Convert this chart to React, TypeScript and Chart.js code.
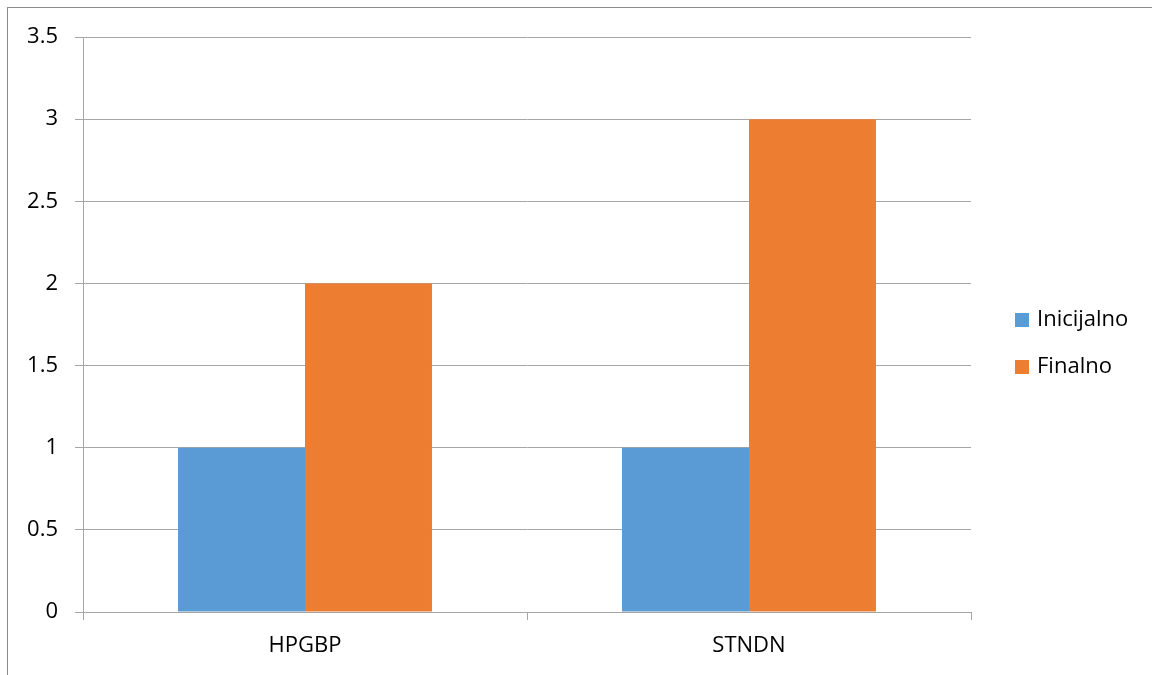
import React, { useEffect, useRef } from "react";
import { Chart, registerables } from "chart.js";

Chart.register(...registerables);

const categories = ["HPGBP", "STNDN"];
const seriesNames = ["Inicijalno", "Finalno"];
const inicijalno = [1, 1];
const finalno = [2, 3];
const seriesColors = ["#5B9BD5", "#ED7D31"];

const FONT = "'Open Sans', sans-serif";
const GRID = "#a6a6a6";

const legendPlugin = {
  id: "customLegend",
  afterDraw(chart: any) {
    const ctx = chart.ctx;
    ctx.save();
    const x = chart.chartArea.right + 44;
    const midY = (chart.chartArea.top + chart.chartArea.bottom) / 2;
    const gap = 47;
    const startY = midY - gap / 2 + 19;
    chart.data.datasets.forEach((ds: any, i: number) => {
      const cy = startY + i * gap;
      ctx.fillStyle = ds.backgroundColor;
      ctx.fillRect(x, cy - 7, 14, 14);
      ctx.fillStyle = "#000";
      ctx.font = `22px ${FONT}`;
      ctx.textBaseline = "middle";
      ctx.textAlign = "left";
      ctx.fillText(ds.label, x + 22, cy);
    });
    ctx.restore();
  },
};

export default function App() {
  const ref = useRef<HTMLCanvasElement | null>(null);
  useEffect(() => {
    if (!ref.current) return;
    const chart = new Chart(ref.current, {
      type: "bar",
      data: {
        labels: categories,
        datasets: [
          { label: seriesNames[0], data: inicijalno, backgroundColor: seriesColors[0] },
          { label: seriesNames[1], data: finalno, backgroundColor: seriesColors[1] },
        ],
      },
      options: {
        animation: false,
        responsive: false,
        maintainAspectRatio: false,
        layout: { padding: { left: 0, top: 37, right: 181, bottom: 0 } },
        datasets: { bar: { barPercentage: 1, categoryPercentage: 0.572 } },
        plugins: { legend: { display: false }, tooltip: { enabled: false } },
        scales: {
          x: {
            afterFit: (s: any) => { s.height = 63; },
            grid: { drawOnChartArea: false, drawTicks: true, tickLength: 8, color: GRID },
            border: { color: GRID },
            ticks: { color: "#000", font: { family: FONT, size: 22 }, padding: 13 },
          },
          y: {
            min: 0,
            max: 3.5,
            afterFit: (s: any) => { s.width = 83; },
            grid: { color: GRID, tickLength: 8 },
            border: { color: GRID },
            ticks: {
              stepSize: 0.5,
              color: "#000",
              font: { family: FONT, size: 22 },
              padding: 17,
              callback: (v: any) => String(v),
            },
          },
        },
      },
      plugins: [legendPlugin],
    });
    return () => chart.destroy();
  }, []);
  return (
    <div style={{ position: "absolute", left: 0, top: 0, width: 1152, height: 675, overflow: "hidden", background: "#fff" }}>
      <div style={{ position: "absolute", left: 7, top: 7, width: 1200, height: 700, borderLeft: "1px solid #8c8c8c", borderTop: "1px solid #8c8c8c" }} />
      <canvas ref={ref} width={1152} height={675} style={{ position: "absolute", left: 0, top: 0 }} />
    </div>
  );
}
